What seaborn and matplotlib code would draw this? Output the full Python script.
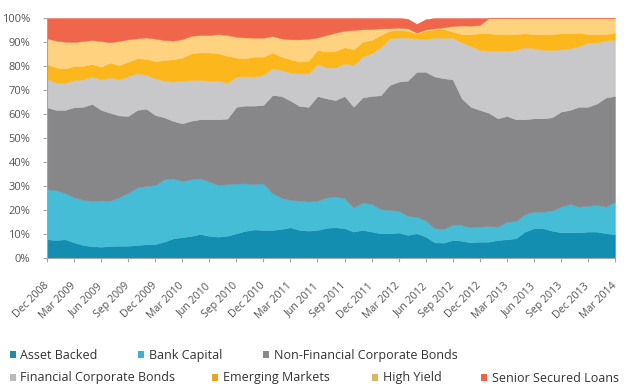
import numpy as np
import pandas as pd
import matplotlib
matplotlib.use("Agg")
import matplotlib.pyplot as plt
import matplotlib.transforms as mtransforms
import seaborn as sns
from matplotlib.patches import Patch

# ---------------- data (percent share per month, Dec 2008 .. Mar 2014) ----------------
tick_labels = ["Dec 2008", "Mar 2009", "Jun 2009", "Sep 2009", "Dec 2009", "Mar 2010",
               "Jun 2010", "Sep 2010", "Dec 2010", "Mar 2011", "Jun 2011", "Sep 2011",
               "Dec 2011", "Mar 2012", "Jun 2012", "Sep 2012", "Dec 2012", "Mar 2013",
               "Jun 2013", "Sep 2013", "Dec 2013", "Mar 2014"]

series_names = ["Asset Backed", "Bank Capital", "Non-Financial Corporate Bonds",
                "Financial Corporate Bonds", "Emerging Markets", "High Yield",
                "Senior Secured Loans"]

asset_backed = [7.8, 7.5, 7.8, 6.5, 5.4, 4.9, 4.7, 5.0, 5.1, 5.1,
                5.4, 5.7, 5.8, 6.8, 8.2, 8.7, 9.2, 10.0, 9.2, 8.9,
                9.3, 10.3, 11.3, 11.9, 11.7, 11.7, 12.1, 12.8, 11.7, 11.4,
                11.7, 12.6, 12.8, 12.4, 11.0, 11.7, 11.0, 10.3, 10.3, 10.6,
                9.6, 10.3, 8.9, 6.5, 6.4, 7.5, 7.2, 6.5, 6.8, 6.8,
                7.5, 7.8, 8.2, 11.0, 12.4, 12.4, 11.4, 10.7, 10.7, 10.7,
                11.0, 11.0, 10.3, 9.9]
bank_capital = [20.9, 20.8, 19.2, 18.8, 18.8, 18.9, 19.3, 18.9, 20.2, 22.1,
                24.0, 24.3, 24.6, 26.0, 25.0, 23.3, 23.6, 23.2, 22.6, 21.5,
                21.5, 20.7, 19.8, 18.9, 19.4, 15.2, 13.0, 11.4, 12.2, 12.1,
                12.2, 12.6, 12.8, 12.5, 10.0, 11.4, 11.5, 10.1, 9.7, 9.1,
                7.9, 6.9, 6.7, 5.9, 5.7, 6.3, 6.5, 6.3, 6.3, 6.5,
                5.6, 7.3, 7.2, 7.3, 6.9, 6.9, 8.3, 10.7, 11.8, 10.7,
                10.8, 11.1, 11.1, 13.6]
non_financial = [34.1, 33.4, 34.7, 37.5, 38.8, 40.4, 37.7, 36.6, 34.1, 32.0,
                 32.3, 32.2, 29.2, 25.8, 23.9, 24.1, 24.4, 24.6, 26.0, 27.4,
                 27.3, 32.0, 32.4, 32.7, 32.7, 41.0, 42.4, 41.4, 39.4, 39.5,
                 43.6, 41.3, 40.2, 42.6, 42.0, 43.8, 45.0, 47.4, 52.1, 53.8,
                 56.4, 60.4, 62.0, 63.2, 62.8, 60.6, 52.8, 50.2, 48.6, 47.2,
                 45.1, 44.1, 42.4, 39.5, 38.9, 38.9, 38.9, 39.6, 39.2, 41.6,
                 41.2, 42.3, 45.5, 44.0]
financial = [11.8, 11.3, 11.3, 11.4, 11.4, 11.4, 12.7, 14.8, 15.0, 16.6,
             15.3, 14.1, 15.3, 15.3, 16.4, 17.7, 17.0, 16.4, 16.1, 16.1,
             14.9, 12.6, 12.3, 12.1, 12.5, 11.1, 10.8, 11.6, 13.6, 13.9,
             13.3, 12.9, 13.6, 13.6, 17.4, 17.0, 17.8, 20.0, 19.4, 18.4,
             17.9, 13.9, 13.5, 16.3, 16.9, 17.4, 23.3, 25.3, 25.0, 25.9,
             28.2, 27.2, 28.9, 30.0, 29.2, 28.5, 28.1, 25.9, 25.7, 25.3,
             26.7, 25.5, 23.7, 23.6]
emerging = [6.2, 6.4, 6.0, 5.8, 5.7, 5.2, 5.3, 6.1, 5.9, 6.0,
            6.2, 6.7, 7.1, 8.6, 9.3, 9.7, 11.1, 11.5, 11.7, 11.4,
            11.2, 7.9, 7.4, 8.3, 7.6, 6.6, 5.6, 5.6, 4.9, 5.3,
            5.9, 6.6, 6.9, 6.7, 6.5, 6.2, 5.5, 5.1, 3.2, 3.1,
            2.9, 2.1, 3.6, 3.4, 3.6, 2.5, 3.5, 5.0, 6.9, 7.2,
            6.9, 6.9, 6.6, 5.8, 5.9, 6.5, 6.6, 6.7, 6.2, 5.6,
            3.6, 3.4, 2.7, 2.8]
high_yield = [10.7, 11.2, 11.1, 10.0, 10.3, 10.0, 10.7, 8.5, 10.1, 9.3,
              8.3, 8.9, 9.4, 8.3, 7.8, 7.7, 7.3, 7.2, 7.3, 8.0,
              8.7, 8.7, 8.7, 7.9, 7.9, 6.9, 7.6, 8.3, 9.3, 9.1,
              5.2, 6.9, 7.6, 6.9, 8.1, 5.2, 4.6, 2.8, 1.0, 1.0,
              1.0, 0.3, 0.5, 0.4, 0.7, 2.4, 3.6, 3.5, 3.5, 6.4,
              6.7, 6.7, 6.7, 6.4, 6.7, 6.8, 6.7, 6.4, 6.4, 6.1,
              6.7, 6.7, 6.7, 6.1]
senior_secured = [8.5, 9.4, 9.9, 10.0, 9.6, 9.2, 9.6, 10.1, 9.6, 8.9,
                  8.5, 8.1, 8.6, 9.2, 9.4, 8.8, 7.4, 7.1, 7.1, 6.7,
                  7.1, 7.8, 8.1, 8.2, 8.2, 7.5, 8.5, 8.9, 8.9, 8.7,
                  8.1, 7.1, 6.1, 5.3, 5.0, 4.7, 4.6, 4.3, 4.3, 4.0,
                  4.0, 3.6, 4.3, 4.3, 3.9, 3.3, 3.1, 3.2, 2.9, 0.0,
                  0.0, 0.0, 0.0, 0.0, 0.0, 0.0, 0.0, 0.0, 0.0, 0.0,
                  0.0, 0.0, 0.0, 0.0]

area_colors = ["#148eb0", "#45bdd7", "#878789", "#c8c8cb", "#fcb71c", "#fed27f", "#ef664a"]
legend_colors = ["#1f8cab", "#40b2cb", "#8a8a8a", "#b9b9bb", "#e9a426", "#dfb462", "#ee6347"]

# ---------------- figure ----------------
sns.set_theme(style="ticks")
plt.rcParams['font.family'] = ['Open Sans', 'DejaVu Sans']

df = pd.DataFrame({
    series_names[0]: asset_backed,
    series_names[1]: bank_capital,
    series_names[2]: non_financial,
    series_names[3]: financial,
    series_names[4]: emerging,
    series_names[5]: high_yield,
    series_names[6]: senior_secured,
})
x = np.arange(len(df))

fig = plt.figure(figsize=(6.25, 3.88), dpi=100)
ax = fig.add_axes([47 / 625, 1 - 258 / 388, 568 / 625, 240 / 388])

colls = ax.stackplot(x, df.T.values, colors=area_colors, linewidth=0)
for c, col in zip(colls, area_colors):
    c.set_edgecolor(col)
    c.set_linewidth(0.3)

ax.set_xlim(0, len(df) - 1)
ax.set_ylim(0, 100)
ax.set_yticks(np.arange(0, 101, 10))
ax.set_yticklabels([f"{v}%" for v in range(0, 101, 10)])
ax.set_xticks(np.arange(0, len(df), 3))
ax.set_xticklabels(tick_labels, rotation=45, ha="right", va="center",
                   rotation_mode="anchor")
offset = mtransforms.ScaledTranslation(4 / 100, 0, fig.dpi_scale_trans)
for lbl in ax.get_xticklabels():
    lbl.set_transform(lbl.get_transform() + offset)

sns.despine(ax=ax)
for s in ["left", "bottom"]:
    ax.spines[s].set_color("#a6a6a6")
    ax.spines[s].set_linewidth(0.8)
ax.tick_params(axis="both", length=3, width=0.8, color="#a6a6a6", labelcolor="#555555")
ax.tick_params(axis="x", pad=16, labelsize=7.7)
ax.tick_params(axis="y", pad=9, labelsize=8)
ax.grid(False)

# legend: individually positioned entries as in the reference
legend_pos = [(9.5, 355.5), (138, 355.5), (263, 355.5),
              (9.5, 378), (212, 378), (372, 378), (481, 378)]
for name, col, (lx, ly) in zip(series_names, legend_colors, legend_pos):
    fig.legend(handles=[Patch(facecolor=col, edgecolor="none")], labels=[name],
               loc="center left", bbox_to_anchor=(lx / 625, 1 - ly / 388),
               frameon=False, fontsize=9, handlelength=0.5, handleheight=0.5,
               handletextpad=0.35, borderpad=0, borderaxespad=0,
               labelcolor="#333333")

fig.savefig("out.png", dpi=100)
